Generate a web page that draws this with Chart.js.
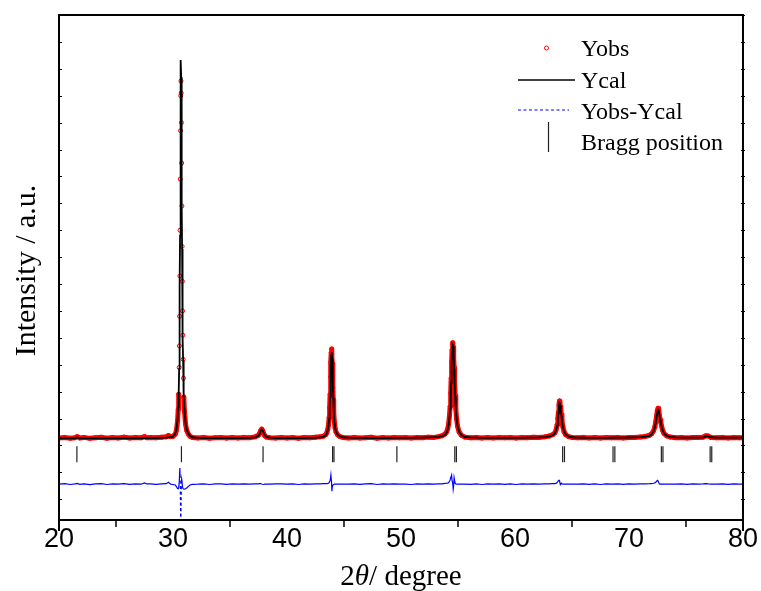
<!DOCTYPE html>
<html>
<head>
<meta charset="utf-8">
<script src="https://cdn.jsdelivr.net/npm/chart.js@4.4.1/dist/chart.umd.min.js"></script>
<style>
  body { margin: 0; background: #fff; }
  canvas { display: block; }
</style>
</head>
<body>
<canvas id="xrdChart" width="761" height="591"></canvas>
<script>
// 2theta grid (deg) shared by the observed, calculated and difference profiles
const twoTheta = [
  20.0, 20.5, 21.0, 21.4, 21.6, 21.8, 22.2, 22.7, 23.2, 23.7, 24.2, 24.7, 25.2, 25.7, 26.2, 26.7, 27.2, 27.5, 27.7, 28.0, 28.5, 29.0, 29.4, 29.6, 29.8, 30.0,
  30.20, 30.30, 30.40, 30.46, 30.50, 30.54, 30.56, 30.58, 30.60, 30.62, 30.64, 30.66, 30.68, 30.70, 30.72, 30.74, 30.76, 30.78, 30.80, 30.82, 30.84, 30.86, 30.89, 30.92, 30.95, 31.00, 31.10, 31.20, 31.35, 31.50, 31.70,
  32.2, 32.7, 33.2, 33.7, 34.2, 34.7, 35.2, 35.7, 36.2, 36.7, 37.2, 37.5,
  37.6, 37.7, 37.78, 37.85, 37.95, 38.05, 38.2, 38.5,
  39.0, 39.5, 40.0, 40.5, 41.0, 41.5, 42.0, 42.5, 42.9, 43.2, 43.4,
  43.50, 43.58, 43.64, 43.70, 43.74, 43.78, 43.82, 43.85, 43.88, 43.91, 43.94, 43.97, 44.00, 44.03, 44.06, 44.10, 44.15, 44.22, 44.30, 44.45, 44.65, 44.90,
  45.4, 45.9, 46.4, 46.9, 47.4, 47.9, 48.4, 48.9, 49.4, 49.9, 50.4, 50.9, 51.4, 51.9, 52.4, 52.9, 53.3, 53.6, 53.85,
  54.00, 54.10, 54.18, 54.25, 54.31, 54.36, 54.40, 54.44, 54.48, 54.52, 54.55, 54.58, 54.62, 54.66, 54.70, 54.75, 54.81, 54.88, 54.97, 55.10, 55.30, 55.60,
  56.1, 56.6, 57.1, 57.6, 58.1, 58.6, 59.1, 59.6, 60.1, 60.6, 61.1, 61.6, 62.1, 62.6, 63.0, 63.3,
  63.50, 63.62, 63.70, 63.76, 63.81, 63.86, 63.90, 63.94, 63.98, 64.02, 64.07, 64.12, 64.20, 64.30, 64.45, 64.70, 65.00,
  65.5, 66.0, 66.5, 67.0, 67.5, 68.0, 68.5, 69.0, 69.5, 70.0, 70.5, 71.0, 71.4, 71.8,
  72.00, 72.15, 72.27, 72.36, 72.43, 72.49, 72.55, 72.61, 72.67, 72.73, 72.79, 72.86, 72.95, 73.08, 73.30, 73.60,
  74.1, 74.6, 75.1, 75.6, 76.1, 76.5, 76.75, 76.95, 77.2, 77.7, 78.2, 78.7, 79.2, 79.7, 80.0
];

const yObs = [
  280, 300, 270, 290, 330, 280, 300, 265, 290, 305, 270, 295, 280, 310, 275, 300, 285, 330, 290, 300, 285, 305, 320, 370, 330, 340,
  420, 560, 900, 1350, 1900, 2900, 3700, 4800, 6300, 8000, 9900, 11700, 13000, 13550, 13100, 12000, 10500, 8900, 7400, 6100, 5000, 4100, 3200, 2500, 1800, 1300, 800, 560, 420, 340, 300,
  280, 300, 270, 290, 300, 275, 295, 280, 300, 290, 320, 380,
  450, 560, 610, 570, 450, 360, 310, 290,
  275, 300, 280, 295, 270, 300, 285, 305, 320, 345, 400,
  480, 600, 760, 1050, 1400, 1900, 2550, 3100, 3450, 3585, 3400, 3050, 2600, 2150, 1700, 1250, 900, 640, 500, 390, 330, 300,
  280, 300, 275, 290, 305, 270, 295, 280, 300, 285, 295, 275, 300, 290, 310, 300, 330, 360, 420,
  500, 620, 800, 1100, 1450, 1950, 2500, 3100, 3550, 3780, 3819, 3650, 3300, 2900, 2400, 1850, 1350, 980, 700, 500, 380, 310,
  285, 300, 275, 295, 280, 300, 285, 295, 275, 300, 290, 305, 300, 320, 350, 400,
  470, 600, 780, 1000, 1250, 1500, 1652, 1600, 1450, 1300, 1150, 930, 700, 520, 400, 330, 300,
  285, 300, 280, 295, 275, 300, 285, 300, 280, 300, 295, 315, 330, 380,
  440, 540, 700, 900, 1120, 1300, 1381, 1300, 1120, 960, 860, 720, 560, 440, 360, 315,
  290, 300, 280, 295, 300, 310, 360, 350, 300, 285, 300, 280, 295, 285, 290
];

const yCal = [
  262, 262, 263, 266, 300, 268, 264, 263, 263, 264, 264, 265, 265, 266, 267, 268, 269, 271, 272, 274, 277, 282, 292, 305, 315, 330,
  440, 600, 960, 1420, 1950, 2850, 3550, 4500, 5900, 7800, 10000, 12200, 13800, 14330, 13700, 12300, 10600, 8900, 7300, 6000, 4900, 4000, 3150, 2480, 1850, 1360, 840, 590, 440, 355, 305,
  285, 278, 274, 272, 271, 271, 272, 274, 277, 283, 300, 360,
  430, 540, 600, 575, 470, 380, 320, 290,
  276, 273, 272, 272, 273, 275, 279, 287, 300, 330, 380,
  460, 580, 740, 1000, 1330, 1800, 2400, 2950, 3350, 3474, 3450, 3200, 2750, 2250, 1780, 1300, 930, 660, 510, 400, 335, 305,
  290, 283, 279, 277, 276, 276, 277, 278, 280, 282, 284, 286, 289, 293, 299, 308, 322, 345, 390,
  470, 590, 760, 1030, 1360, 1820, 2330, 2950, 3450, 3720, 3734, 3700, 3380, 2850, 2350, 1830, 1350, 990, 710, 510, 385, 315,
  298, 290, 286, 283, 282, 282, 282, 283, 284, 286, 289, 294, 301, 314, 338, 380,
  450, 580, 750, 960, 1200, 1440, 1600, 1590, 1480, 1300, 1120, 920, 700, 530, 405, 335, 305,
  292, 287, 285, 284, 284, 285, 287, 289, 292, 296, 301, 310, 325, 360,
  420, 520, 680, 870, 1080, 1250, 1330, 1290, 1130, 960, 860, 720, 570, 445, 360, 318,
  298, 292, 290, 290, 292, 298, 335, 340, 305, 294, 292, 292, 292, 292, 292
];

// difference curve, already shifted below the pattern
const yDiff = [
  -1440, -1420, -1450, -1430, -1410, -1445, -1425, -1455, -1430, -1420, -1450, -1425, -1440, -1415, -1445, -1425, -1440, -1390, -1430, -1425, -1445, -1430, -1420, -1370, -1440, -1450,
  -1470, -1530, -1600, -1610, -1560, -1420, -1250, -1050, -840, -1100, -1600, -2200, -3000, -2400, -1900, -1400, -1250, -1300, -1400, -1480, -1540, -1580, -1600, -1615, -1625, -1625, -1610, -1580, -1520, -1470, -1445,
  -1440, -1425, -1450, -1430, -1425, -1445, -1430, -1440, -1430, -1435, -1430, -1425,
  -1420, -1415, -1430, -1440, -1450, -1440, -1435, -1440,
  -1430, -1425, -1440, -1430, -1450, -1425, -1440, -1430, -1430, -1420, -1415,
  -1420, -1410, -1400, -1380, -1340, -1300, -1200, -1100, -1250, -1380, -1700, -1550, -1500, -1480, -1460, -1450, -1440, -1440, -1435, -1440, -1435, -1440,
  -1440, -1425, -1445, -1430, -1420, -1450, -1430, -1440, -1430, -1440, -1435, -1450, -1430, -1440, -1430, -1440, -1430, -1425, -1410,
  -1405, -1400, -1380, -1330, -1280, -1200, -1150, -1100, -1300, -1380, -1450, -1620, -1500, -1200, -1300, -1400, -1430, -1440, -1440, -1440, -1435, -1440,
  -1445, -1430, -1450, -1430, -1440, -1430, -1445, -1430, -1450, -1430, -1440, -1430, -1440, -1430, -1425, -1420,
  -1415, -1400, -1380, -1340, -1310, -1290, -1300, -1380, -1460, -1440, -1400, -1420, -1435, -1440, -1440, -1435, -1440,
  -1440, -1430, -1445, -1430, -1450, -1430, -1440, -1430, -1445, -1430, -1440, -1430, -1425, -1420,
  -1415, -1405, -1390, -1360, -1330, -1300, -1320, -1380, -1430, -1440, -1430, -1435, -1440, -1440, -1435, -1440,
  -1440, -1430, -1445, -1430, -1435, -1430, -1420, -1430, -1440, -1440, -1430, -1445, -1430, -1440, -1435
];

// Bragg reflections (deg), drawn as short bars on one row
const braggPos = [21.57, 30.74, 37.9, 44.0, 44.12, 49.64, 54.72, 54.86, 64.18, 64.34, 68.6, 68.76, 72.84, 72.98, 77.12, 77.26];
const braggLevel = -325;

const xTickLabels = [20, 30, 40, 50, 60, 70, 80];
const legendLabels = ['Yobs', 'Ycal', 'Yobs-Ycal', 'Bragg position'];

const toPts = ys => twoTheta.map((t, i) => ({ x: t, y: ys[i] }));

// frame, inward y ticks, outward minor x ticks, titles and legend
const decorations = {
  id: 'decorations',
  afterDraw(chart) {
    const { ctx, chartArea: a, scales: { x, y } } = chart;
    ctx.save();
    ctx.strokeStyle = '#000';
    ctx.fillStyle = '#000';

    ctx.lineWidth = 1;
    for (let v = Math.ceil(y.min / 1000) * 1000; v <= y.max; v += 1000) {
      const py = Math.round(y.getPixelForValue(v)) + 0.5;
      ctx.beginPath();
      ctx.moveTo(a.left, py); ctx.lineTo(a.left + 3, py);
      ctx.moveTo(a.right - 2, py); ctx.lineTo(a.right + 2, py);
      ctx.stroke();
    }

    ctx.lineWidth = 1.5;
    for (let i = 0; i < xTickLabels.length - 1; i++) {
      const px = x.getPixelForValue((xTickLabels[i] + xTickLabels[i + 1]) / 2);
      ctx.beginPath();
      ctx.moveTo(px, a.bottom); ctx.lineTo(px, a.bottom + 7);
      ctx.stroke();
    }

    ctx.lineWidth = 2;
    ctx.strokeRect(a.left, a.top, a.right - a.left, a.bottom - a.top);
    ctx.beginPath();
    ctx.moveTo(a.left, a.bottom); ctx.lineTo(a.left, a.bottom + 11);
    ctx.moveTo(a.right, a.bottom); ctx.lineTo(a.right, a.bottom + 11);
    ctx.stroke();

    // y title
    ctx.save();
    ctx.translate(35, (a.top + a.bottom) / 2 + 3);
    ctx.rotate(-Math.PI / 2);
    ctx.font = '30px "Liberation Serif"';
    ctx.textAlign = 'center';
    ctx.textBaseline = 'alphabetic';
    ctx.fillText('Intensity / a.u.', 0, 0);
    ctx.restore();

    // x title with italic theta
    const parts = [['2', 'normal'], ['\u03b8', 'italic'], ['/ degree', 'normal']];
    let total = 0;
    parts.forEach(p => { ctx.font = p[1] + ' 29px "Liberation Serif"'; total += ctx.measureText(p[0]).width; });
    let tx = (a.left + a.right) / 2 - total / 2;
    ctx.textAlign = 'left';
    parts.forEach(p => {
      ctx.font = p[1] + ' 29px "Liberation Serif"';
      ctx.fillText(p[0], tx, 585);
      tx += ctx.measureText(p[0]).width;
    });

    // legend
    const textX = 581, rowBase = [56, 88, 119, 150];
    ctx.font = '24px "Liberation Serif"';
    legendLabels.forEach((t, i) => ctx.fillText(t, textX, rowBase[i]));
    ctx.strokeStyle = '#ff0000';
    ctx.lineWidth = 1;
    ctx.beginPath(); ctx.arc(546.5, 48, 2, 0, Math.PI * 2); ctx.stroke();
    ctx.strokeStyle = '#000';
    ctx.lineWidth = 1.5;
    ctx.beginPath(); ctx.moveTo(518, 80); ctx.lineTo(575, 80); ctx.stroke();
    ctx.strokeStyle = '#0000ff';
    ctx.lineWidth = 1.2;
    ctx.setLineDash([3, 2.5]);
    ctx.beginPath(); ctx.moveTo(518, 110); ctx.lineTo(569, 110); ctx.stroke();
    ctx.setLineDash([]);
    ctx.strokeStyle = '#222';
    ctx.lineWidth = 1.2;
    ctx.beginPath(); ctx.moveTo(548.5, 122); ctx.lineTo(548.5, 152); ctx.stroke();
    ctx.restore();
  }
};

// the red band of overlapping circles only shows where the profile is not too steep
const steep = c => Math.abs(c.p1.y - c.p0.y) > 45 * Math.max(Math.abs(c.p1.x - c.p0.x), 0.01);

new Chart(document.getElementById('xrdChart').getContext('2d'), {
  type: 'line',
  data: {
    datasets: [
      {
        label: 'Ycal',
        data: toPts(yCal),
        borderColor: '#000',
        borderWidth: 1.8,
        pointRadius: 0,
        order: 0
      },
      {
        label: 'Yobs',
        data: toPts(yObs),
        borderColor: '#ff0000',
        borderWidth: 5,
        borderJoinStyle: 'round',
        borderCapStyle: 'round',
        pointRadius: 2,
        pointBorderWidth: 1,
        pointBorderColor: '#ff0000',
        pointBackgroundColor: 'rgba(0,0,0,0)',
        segment: { borderColor: c => steep(c) ? 'rgba(0,0,0,0)' : '#ff0000' },
        order: 1
      },
      {
        label: 'Yobs-Ycal',
        data: toPts(yDiff),
        borderColor: '#0000ff',
        borderWidth: 1.2,
        borderDash: [3, 2.5],
        pointRadius: 0,
        segment: { borderDash: c => Math.abs(c.p1.y - c.p0.y) > 10 ? [3, 2.5] : [] },
        order: 2
      },
      {
        label: 'Bragg position',
        data: braggPos.map(p => ({ x: p, y: braggLevel })),
        showLine: false,
        pointStyle: 'line',
        rotation: 90,
        pointRadius: 8,
        pointBorderWidth: 1.2,
        pointBorderColor: '#222',
        order: 3
      }
    ]
  },
  options: {
    responsive: false,
    animation: false,
    devicePixelRatio: 1,
    layout: { padding: { left: 59, top: 15, right: 16, bottom: 32.6 } },
    plugins: { legend: { display: false }, tooltip: { enabled: false } },
    scales: {
      x: {
        type: 'linear',
        min: 20,
        max: 80,
        grid: { display: false, drawTicks: false },
        border: { display: false },
        ticks: {
          stepSize: 10,
          padding: 3,
          color: '#000',
          font: { family: '"Liberation Sans", Arial', size: 27 },
          callback: v => xTickLabels.includes(v) ? String(v) : ''
        }
      },
      y: {
        display: false,
        min: -2770,
        max: 16000,
        ticks: { stepSize: 1000 }
      }
    }
  },
  plugins: [decorations]
});
</script>
</body>
</html>
